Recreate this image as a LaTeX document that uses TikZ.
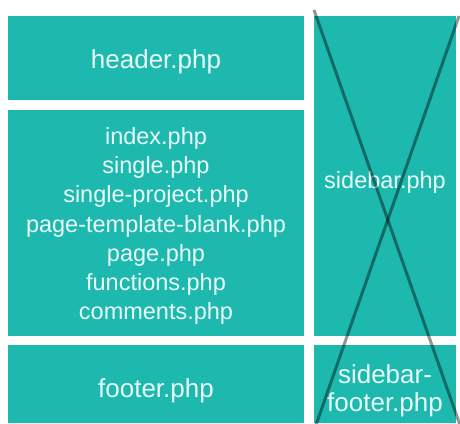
\documentclass[tikz,border=0pt]{standalone}
\usepackage{fontspec}
\setmainfont{Liberation Sans}
\definecolor{tealbox}{RGB}{29,185,175}
\definecolor{boxtext}{RGB}{232,250,248}
\begin{document}
\begin{tikzpicture}[x=1pt,y=-1pt,
  box/.style={fill=tealbox, draw=none, inner sep=0pt},
  lbl/.style={text=boxtext, align=center, inner sep=0pt},
  bigtext/.style={lbl, font=\fontsize{26}{28}\selectfont},
  smalltext/.style={lbl, font=\fontsize{23.5}{29.3}\selectfont},
  crossline/.style={line width=3pt, draw=black, draw opacity=0.42}]
\useasboundingbox (0,0) rectangle (460,423);
\fill[white] (0,0) rectangle (460,423);
\node[box, minimum width=296pt, minimum height=84pt,
  label={[bigtext, yshift=-4pt]center:header.php}] (header) at (156,58) {};
\node[box, minimum width=296pt, minimum height=226pt,
  label={[smalltext, yshift=-3pt]center:{index.php\\single.php\\single-project.php\\page-template-blank.php\\page.php\\functions.php\\comments.php}}] (main) at (156,223) {};
\node[box, minimum width=296pt, minimum height=78pt,
  label={[bigtext, yshift=-7pt]center:footer.php}] (footer) at (156,384) {};
\node[box, minimum width=142pt, minimum height=320pt,
  label={[smalltext, yshift=-6pt]center:sidebar.php}] (sidebar) at (385,176) {};
\node[box, minimum width=142pt, minimum height=78pt,
  label={[bigtext, yshift=-7pt]center:{sidebar-\\footer.php}}] (sfooter) at (385,384) {};
\coordinate (a1) at (314,10);
\coordinate (a2) at (460,425);
\coordinate (b1) at (459,16);
\coordinate (b2) at (316,425);
\draw[crossline] (a1) -- (a2);
\draw[crossline] (b1) -- (b2);
\end{tikzpicture}
\end{document}
